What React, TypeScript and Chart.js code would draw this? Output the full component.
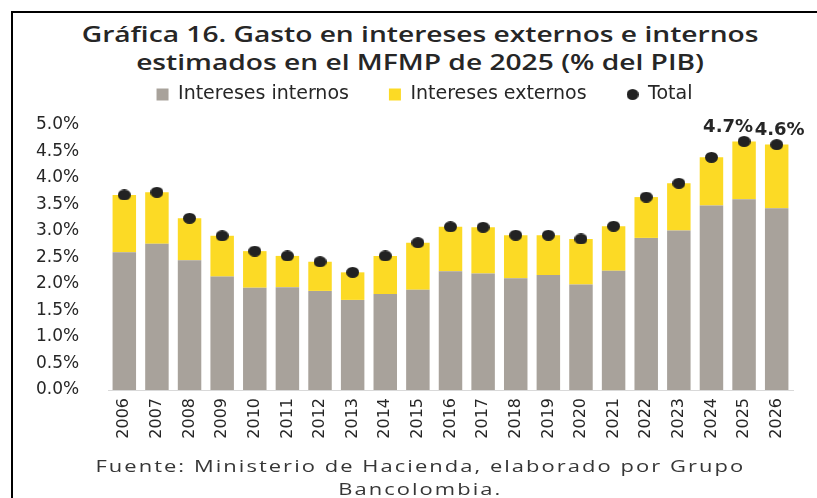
import React, { useEffect, useRef } from "react";
import { Chart, registerables } from "chart.js";

Chart.register(...registerables);

const years = ["2006","2007","2008","2009","2010","2011","2012","2013","2014","2015","2016","2017","2018","2019","2020","2021","2022","2023","2024","2025","2026"];
const internos = [2.60,2.76,2.45,2.14,1.93,1.94,1.87,1.70,1.81,1.89,2.24,2.20,2.11,2.17,1.99,2.25,2.87,3.01,3.48,3.60,3.43];
const externos = [1.08,0.97,0.79,0.77,0.69,0.59,0.55,0.52,0.72,0.89,0.84,0.87,0.81,0.75,0.86,0.84,0.77,0.89,0.91,1.09,1.20];
const totals = [3.68,3.73,3.24,2.91,2.62,2.53,2.42,2.22,2.53,2.78,3.08,3.07,2.92,2.92,2.85,3.09,3.64,3.90,4.39,4.69,4.63];
const labeledYears = ["2025", "2026"];
const yTicks = [0, 0.5, 1, 1.5, 2, 2.5, 3, 3.5, 4, 4.5, 5];

const titleLines = ["Gráfica 16. Gasto en intereses externos e internos", "estimados en el MFMP de 2025 (% del PIB)"];
const footerLines = ["Fuente: Ministerio de Hacienda, elaborado por Grupo", "Bancolombia."];

const GRAY = "#a8a29b";
const YELLOW = "#fcda25";
const DOT = "#222222";
const TEXT = "#262626";

function dotImage(w: number, h: number) {
  const c = document.createElement("canvas");
  c.width = w;
  c.height = h;
  const ctx = c.getContext("2d")!;
  ctx.fillStyle = DOT;
  ctx.beginPath();
  ctx.ellipse(w / 2, h / 2, w / 2, h / 2, 0, 0, Math.PI * 2);
  ctx.fill();
  return c;
}

const labelPlugin = {
  id: "totalLabels",
  afterDatasetsDraw(chart: any) {
    const meta = chart.getDatasetMeta(2);
    const ctx = chart.ctx;
    const shifts: Record<number, number> = { 19: -16, 20: 3 };
    ctx.save();
    ctx.font = "bold 18px 'DejaVu Sans'";
    ctx.fillStyle = TEXT;
    ctx.textAlign = "center";
    ctx.textBaseline = "bottom";
    years.forEach((y, i) => {
      if (!labeledYears.includes(y)) return;
      const el = meta.data[i];
      ctx.fillText(totals[i].toFixed(1) + "%", el.x + (shifts[i] || 0), el.y - 5);
    });
    ctx.restore();
  },
};

const legendShift = {
  id: "legendShift",
  afterLayout(chart: any) {
    const lg = chart.legend;
    if (lg) {
      lg.left += 10;
      lg.right += 10;
      lg.top -= 11;
      lg.bottom -= 11;
    }
  },
};

export default function App() {
  const ref = useRef<HTMLCanvasElement>(null);
  useEffect(() => {
    const legendDot = dotImage(12, 11);
    const pointDot = dotImage(13, 11);
    const chart = new Chart(ref.current!, {
      type: "bar",
      data: {
        labels: years,
        datasets: [
          { type: "bar", label: "Intereses internos", data: internos, backgroundColor: GRAY, pointStyle: "rect", categoryPercentage: 0.72, barPercentage: 1, order: 2 },
          { type: "bar", label: "Intereses externos", data: externos, backgroundColor: YELLOW, pointStyle: "rect", categoryPercentage: 0.72, barPercentage: 1, order: 2 },
          { type: "line", label: "Total", data: totals, showLine: false, stack: "total", pointStyle: pointDot, pointRadius: 6, pointHoverRadius: 6, pointBackgroundColor: DOT, pointBorderWidth: 0, borderColor: DOT, backgroundColor: DOT, order: 0 } as any,
        ],
      },
      options: {
        animation: false,
        responsive: false,
        maintainAspectRatio: false,
        events: [],
        layout: { padding: { left: 36, right: 24, top: 56, bottom: 48 } },
        plugins: {
          title: { display: false },
          tooltip: { enabled: false },
          legend: {
            display: true,
            position: "top",
            labels: {
              usePointStyle: true,
              boxHeight: 12,
              pointStyleWidth: 12,
              padding: 40,
              color: TEXT,
              font: { family: "'DejaVu Sans'", size: 19 },
              sort: (a: any, b: any) => a.datasetIndex - b.datasetIndex,
              generateLabels(chart: any) {
                const items = Chart.defaults.plugins.legend.labels.generateLabels(chart);
                items.forEach((it: any) => {
                  it.lineWidth = 0;
                  if (it.datasetIndex === 2) it.pointStyle = legendDot;
                });
                return items;
              },
            },
          },
        },
        scales: {
          x: {
            stacked: true,
            grid: { display: false, drawTicks: false },
            border: { display: true, color: "#d9d9d9", width: 1 },
            ticks: { minRotation: 90, maxRotation: 90, autoSkip: false, padding: 8, color: TEXT, font: { family: "'DejaVu Sans'", size: 16 } },
            afterFit(scale: any) { scale.height = 60; },
          },
          y: {
            stacked: true,
            min: 0,
            max: 5,
            afterBuildTicks(scale: any) { scale.ticks = yTicks.map((v) => ({ value: v })); },
            grid: { display: false, drawTicks: false },
            border: { display: false },
            ticks: {
              crossAlign: "far",
              padding: 23,
              color: TEXT,
              font: { family: "'DejaVu Sans'", size: 17 },
              callback: (v: any) => Number(v).toFixed(1) + "%",
            },
            afterFit(scale: any) { scale.width = 72; },
          },
        },
      },
      plugins: [labelPlugin, legendShift],
    });
    return () => chart.destroy();
  }, []);

  return (
    <div style={{ position: "fixed", left: 0, top: 0, width: 817, height: 498, background: "#fff", overflow: "hidden" }}>
      <div style={{ position: "absolute", left: 11, top: 11, width: 830, height: 520, borderTop: "2px solid #000", borderLeft: "2px solid #000", boxSizing: "border-box" }} />
      <div style={{ position: "absolute", left: 12, top: 19, width: 817, textAlign: "center", fontFamily: "'Open Sans'", fontWeight: 600, fontSize: 22, lineHeight: "28px", color: TEXT, whiteSpace: "nowrap", transform: "scaleX(1.28)", transformOrigin: "410px 0" }}>
        {titleLines.map((t) => <div key={t}>{t}</div>)}
      </div>
      <canvas ref={ref} width={817} height={498} style={{ position: "absolute", left: 0, top: 0, width: 817, height: 498 }} />
      <div style={{ position: "absolute", left: 12, top: 455, width: 817, textAlign: "center", fontFamily: "'Open Sans'", fontSize: 16, letterSpacing: "1.5px", lineHeight: "23px", color: "#363636", whiteSpace: "nowrap", transform: "scaleX(1.37)", transformOrigin: "409px 0" }}>
        {footerLines.map((t) => <div key={t}>{t}</div>)}
      </div>
    </div>
  );
}
